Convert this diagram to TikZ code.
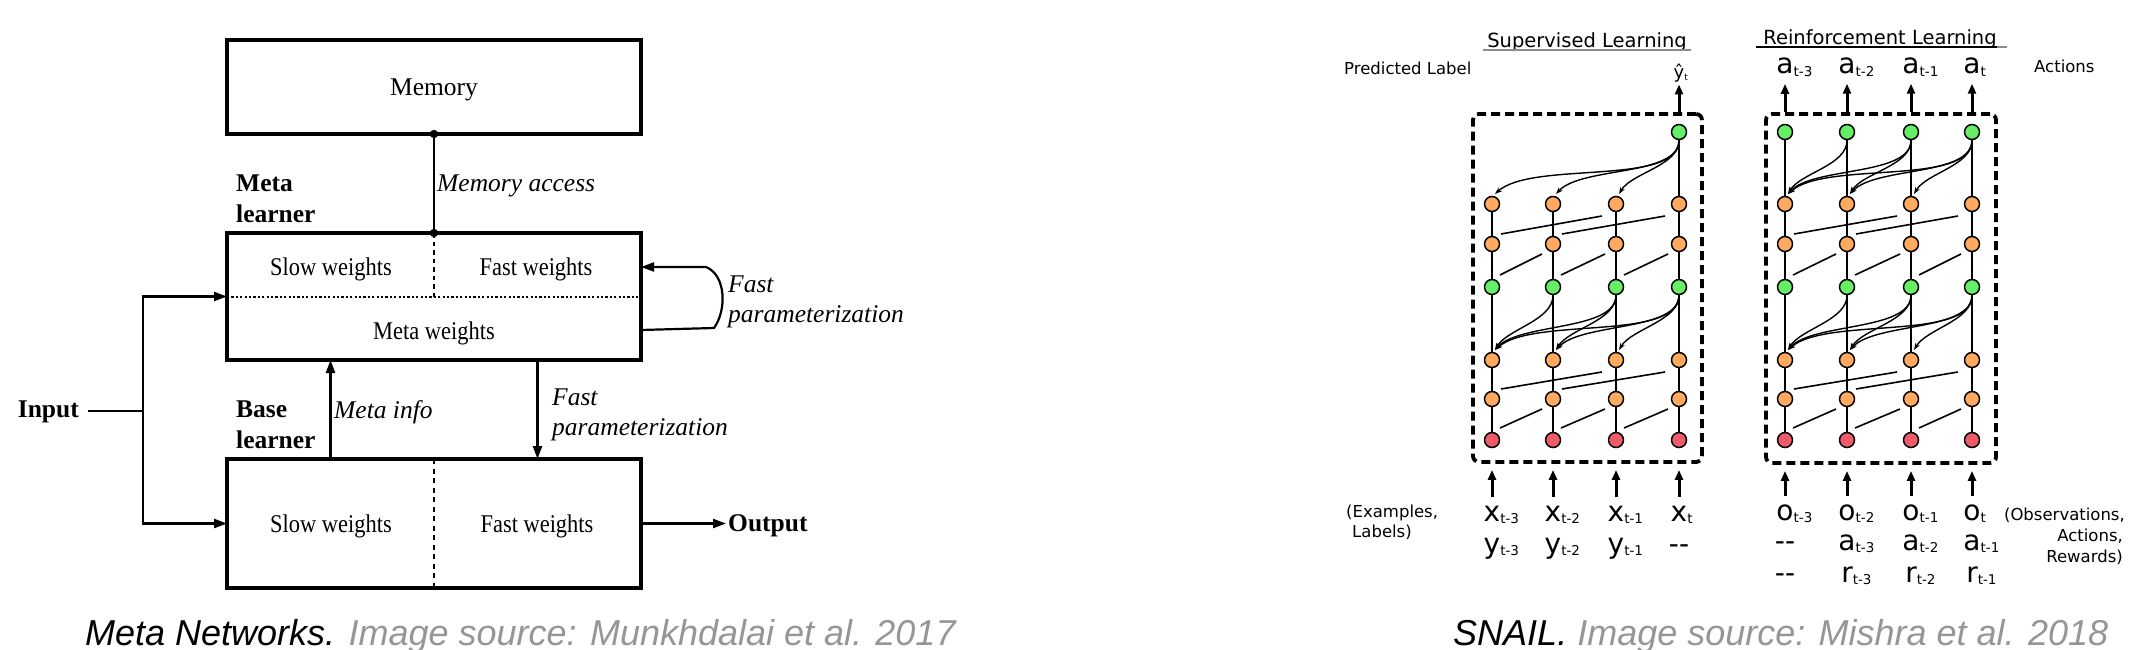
\documentclass[tikz,border=0pt]{standalone}
\usepackage{fontspec}
\setmainfont{Liberation Serif}
\newfontfamily\tnrc[FakeStretch=0.88]{Liberation Serif}
\newfontfamily\dvs{DejaVu Sans}
\newfontfamily\capf{Liberation Sans}
\usetikzlibrary{arrows.meta,calc}
\definecolor{capgray}{RGB}{150,150,150}
\definecolor{ulgray}{RGB}{140,140,140}
\definecolor{ngreen}{RGB}{102,238,102}
\definecolor{norange}{RGB}{255,170,96}
\definecolor{nred}{RGB}{238,92,106}
\newcommand\serL{\fontsize{25.5}{30}\selectfont}
\newcommand\sansS{\dvs\fontsize{16.5}{20}\selectfont}
\newcommand\sansT{\dvs\fontsize{19.5}{23}\selectfont}
\newcommand\sansB{\dvs\fontsize{28}{30}\selectfont}
\newcommand\snsub[1]{\rlap{\raisebox{-2.5pt}{\fontsize{13.5}{14}\selectfont #1}}}
\newcommand\attn[3]{%
  \pgfmathsetmacro\atA{15+0.17*#3}%
  \pgfmathsetmacro\atB{3+0.2*#3}%
  \pgfmathsetmacro\atC{-25-0.1*#3}%
  \draw[att] (#1.south) .. controls ($(#1.south)+(0,\atA)$) and ($(#2)+(\atB,\atC)$) .. ($(#2)+(3,-10)$);}
\begin{document}
\begin{tikzpicture}[x=1pt,y=-1pt,
  mbox/.style={draw, line width=4.5pt, minimum width=414pt, minimum height=#1, inner sep=0pt, outer sep=0pt},
  ltxt/.style={inner sep=0pt, anchor=base, font=\serL},
  conn/.style={line width=2.2pt},
  arr/.style={conn, -{Triangle[length=13pt,width=9pt]}},
  sn/.style={circle, draw, line width=1.5pt, minimum size=15pt, inner sep=0pt},
  ngr/.style={sn, fill=ngreen},
  nor/.style={sn, fill=norange},
  nrd/.style={sn, fill=nred},
  thinl/.style={line width=1.6pt},
  att/.style={line width=1.4pt, -{Stealth[length=7pt,width=5pt]}},
  dbox/.style={draw, line width=3.8pt, dash pattern=on 9pt off 5pt, rounded corners=6pt, inner sep=0pt},
  tarr/.style={line width=3pt, -{Triangle[length=10pt,width=8pt]}},
  snl/.style={inner sep=0pt, anchor=base, font=\sansB},
  sns/.style={inner sep=0pt, font=\sansS},
]
\fill[white] (0,0) rectangle (2140,650);
\useasboundingbox (0,0) rectangle (2140,650);

% ---------------- Meta Networks ----------------
\node[mbox=94pt] (mem) at (434,87) {};
\node[ltxt] (memt) at (434,96) {Memory};
\node[mbox=127pt] (meta) at (434,296.5) {};
\node[mbox=129pt] (base) at (434,523.5) {};

\draw[conn] (mem.south) -- (meta.north);
\fill (mem.south) circle (4.2pt);
\fill (meta.north) circle (4.2pt);

\draw[line width=2pt, dash pattern=on 2.2pt off 2.2pt] (meta.west) -- (meta.east);
\draw[line width=2pt, dash pattern=on 4.5pt off 4pt] (meta.north) -- (meta.center);
\draw[line width=2pt, dash pattern=on 5pt off 4.5pt] (base.north) -- (base.south);

\node[ltxt, font=\serL\bfseries, anchor=base west] (mlA) at (236,191) {Meta};
\node[ltxt, font=\serL\bfseries, anchor=base west] (mlB) at (236,222) {learner};
\node[ltxt, font=\serL\itshape, anchor=base west] (macc) at (437,191) {Memory access};

\node[ltxt, font={\tnrc\serL}] (sw1) at (331,275) {Slow weights};
\node[ltxt, font={\tnrc\serL}] (fw1) at (536,275) {Fast weights};
\node[ltxt, font={\tnrc\serL}] (mw) at (434,339) {Meta weights};
\node[ltxt, font={\tnrc\serL}] (sw2) at (331,532) {Slow weights};
\node[ltxt, font={\tnrc\serL}] (fw2) at (537,532) {Fast weights};

\node[ltxt, font=\serL\itshape, anchor=base west] (fpA) at (728,292) {Fast};
\node[ltxt, font=\serL\itshape, anchor=base west] (fpB) at (728,322) {parameterization};
\node[ltxt, font=\serL\itshape, anchor=base west] (minfo) at (334,418) {Meta info};
\node[ltxt, font=\serL\itshape, anchor=base west] (fpC) at (552,405) {Fast};
\node[ltxt, font=\serL\itshape, anchor=base west] (fpD) at (552,435) {parameterization};
\node[ltxt, font=\serL\bfseries, anchor=base west] (blA) at (236,417) {Base};
\node[ltxt, font=\serL\bfseries, anchor=base west] (blB) at (236,448) {learner};

\node[ltxt, font=\serL\bfseries, anchor=base east, inner xsep=9pt] (inp) at (88,417) {Input};
\node[ltxt, font=\serL\bfseries, anchor=base west, inner xsep=2pt] (outp) at (726,531) {Output};

\coordinate (split) at ($(inp.east)+(55,0)$);
\draw[conn] (inp.east) -- (split);
\draw[arr] (split) |- (meta.west);
\draw[arr] (split) |- (base.west);
\draw[arr] (base.east) -- (base.east -| outp.west);

\draw[arr] ($(base.north west)!0.25!(base.north east)$) -- ($(meta.south west)!0.25!(meta.south east)$);
\draw[arr] ($(meta.south west)!0.75!(meta.south east)$) -- ($(base.north west)!0.75!(base.north east)$);

\draw[arr] ($(meta.east)+(0,33.5)$) -- ($(meta.east)+(73,31.5)$)
  .. controls ($(meta.east)+(86,13.5)$) and ($(meta.east)+(85,-21.5)$) .. ($(meta.east)+(65,-29.5)$)
  -- ($(meta.east)+(0,-29.5)$);

\node[anchor=base west, inner sep=0pt, font=\capf\itshape\fontsize{36}{40}\selectfont] (capL) at (85,645)
  {Meta Networks. \textcolor{capgray}{Image source: Munkhdalai et al. 2017}};
\node[anchor=base west, inner sep=0pt, font=\capf\itshape\fontsize{36}{40}\selectfont] (capR) at (1453,645)
  {SNAIL. \textcolor{capgray}{Image source: Mishra et al. 2018}};

% ---------------- SNAIL ----------------
\node[dbox, minimum width=229pt, minimum height=348pt] (slbox) at (1587.5,288) {};
\node[dbox, minimum width=230pt, minimum height=349pt] (rlbox) at (1881,288.5) {};

\foreach \p/\xa/\xb/\xc/\xd in {sl/1492/1553/1616/1679, rl/1785/1847/1911/1972}{
  \foreach \i/\x in {1/\xa,2/\xb,3/\xc,4/\xd}{
    \foreach \r/\y/\st in {1/440/nrd,2/399/nor,3/360/nor,4/287/ngr,5/244/nor,6/204/nor}{
      \node[\st] (\p\i\r) at (\x,\y) {};
    }
  }
}
\node[ngr] (sl47) at (1679,132) {};
\foreach \i/\x in {1/1785,2/1847,3/1911,4/1972} \node[ngr] (rl\i7) at (\x,132) {};

\foreach \p in {sl,rl}{
  \foreach \i in {1,2,3,4}{
    \foreach \r/\rr in {1/2,2/3,3/4,4/5,5/6} \draw[thinl] (\p\i\r) -- (\p\i\rr);
  }
  \foreach \r/\rr in {1/2,4/5}{
    \foreach \i/\j in {1/2,2/3,3/4} \draw[thinl] ($(\p\i\r)+(8,-12)$) -- ($(\p\j\rr)+(-11,10)$);
  }
  \foreach \r/\rr in {2/3,5/6}{
    \foreach \i/\j in {1/3,2/4} \draw[thinl] ($(\p\i\r)+(9,-10)$) -- ($(\p\j\rr)+(-14,12)$);
  }
  \foreach \k/\j/\d in {2/1/61,3/1/124,3/2/63,4/1/187,4/2/126,4/3/63}{\attn{\p\k4}{\p\j3}{\d}}
}
\draw[thinl] (sl47) -- (sl46);
\foreach \k/\j/\d in {4/1/187,4/2/126,4/3/63}{\attn{sl\k7}{sl\j6}{\d}}
\foreach \i in {1,2,3,4} \draw[thinl] (rl\i7) -- (rl\i6);
\foreach \k/\j/\d in {2/1/61,3/1/124,3/2/63,4/1/187,4/2/126,4/3/63}{\attn{rl\k7}{rl\j6}{\d}}

% titles
\node[inner sep=0pt, anchor=base, font=\sansT] (slt) at (1587,48) {Supervised Learning};
\draw[line width=2pt, ulgray] ($(slt.base west)+(-4,2.5)$) -- ($(slt.base east)+(4,2.5)$);
\node[inner sep=0pt, anchor=base, font=\sansT] (rlt) at (1880,45) {Reinforcement Learning};
\draw[line width=2pt] ($(rlt.base west)+(-7,2)$) -- ($(rlt.base east)+(0,2)$);
\draw[line width=2pt, ulgray] ($(rlt.base east)+(0,2)$) -- ($(rlt.base east)+(10,2)$);

% side labels
\node[sns, anchor=base west] (predl) at (1344,75) {Predicted Label};
\node[sns, anchor=base west] (actl) at (2034,73) {Actions};
\node[sns, anchor=base west] (exl1) at (1346,517) {(Examples,};
\node[sns, anchor=base west] (exl2) at (1352,537) {Labels)};
\node[sns, anchor=base east] (obs1) at (2125,520) {(Observations,};
\node[sns, anchor=base east] (obs2) at (2123,541) {Actions,};
\node[sns, anchor=base east] (obs3) at (2123,562) {Rewards)};

% outputs
\node[snl] (slyh) at (1679,79) {\fontsize{18}{18}\selectfont ŷ\rlap{\raisebox{-2pt}{\fontsize{9}{9}\selectfont t}}};
\draw[tarr, shorten >=1.5pt] (slyh |- slbox.north) -- (slyh.south);
\foreach \i/\x/\s in {1/1785/t-3,2/1847/t-2,3/1911/t-1,4/1972/t}{
  \node[snl] (rla\i) at (\x,74) {a\snsub{\s}};
  \draw[tarr, shorten >=7pt] (rla\i |- rlbox.north) -- (rla\i.south);
}

% inputs SL
\foreach \i/\x/\s in {1/1492/t-3,2/1553/t-2,3/1616/t-1,4/1679/t}{
  \node[snl] (slx\i) at (\x,521) {x\snsub{\s}};
  \draw[tarr, shorten <=8pt, shorten >=6pt] (slx\i.north) -- (slx\i |- slbox.south);
}
\node[snl] (sly1) at (1492,553) {y\snsub{t-3}};
\node[snl] (sly2) at (1553,553) {y\snsub{t-2}};
\node[snl] (sly3) at (1616,553) {y\snsub{t-1}};
\node[snl] (sly4) at (1679,553) {-{}-};

% inputs RL
\foreach \i/\x/\s in {1/1785/t-3,2/1847/t-2,3/1911/t-1,4/1972/t}{
  \node[snl] (rlo\i) at (\x,520) {o\snsub{\s}};
  \draw[tarr, shorten <=8pt, shorten >=6pt] (rlo\i.north) -- (rlo\i |- rlbox.south);
}
\node[snl] (rlb1) at (1785,550) {-{}-};
\node[snl] (rlb2) at (1847,550) {a\snsub{t-3}};
\node[snl] (rlb3) at (1911,550) {a\snsub{t-2}};
\node[snl] (rlb4) at (1972,550) {a\snsub{t-1}};
\node[snl] (rlc1) at (1785,582) {-{}-};
\node[snl] (rlc2) at (1847,582) {r\snsub{t-3}};
\node[snl] (rlc3) at (1911,582) {r\snsub{t-2}};
\node[snl] (rlc4) at (1972,582) {r\snsub{t-1}};
\end{tikzpicture}
\end{document}
